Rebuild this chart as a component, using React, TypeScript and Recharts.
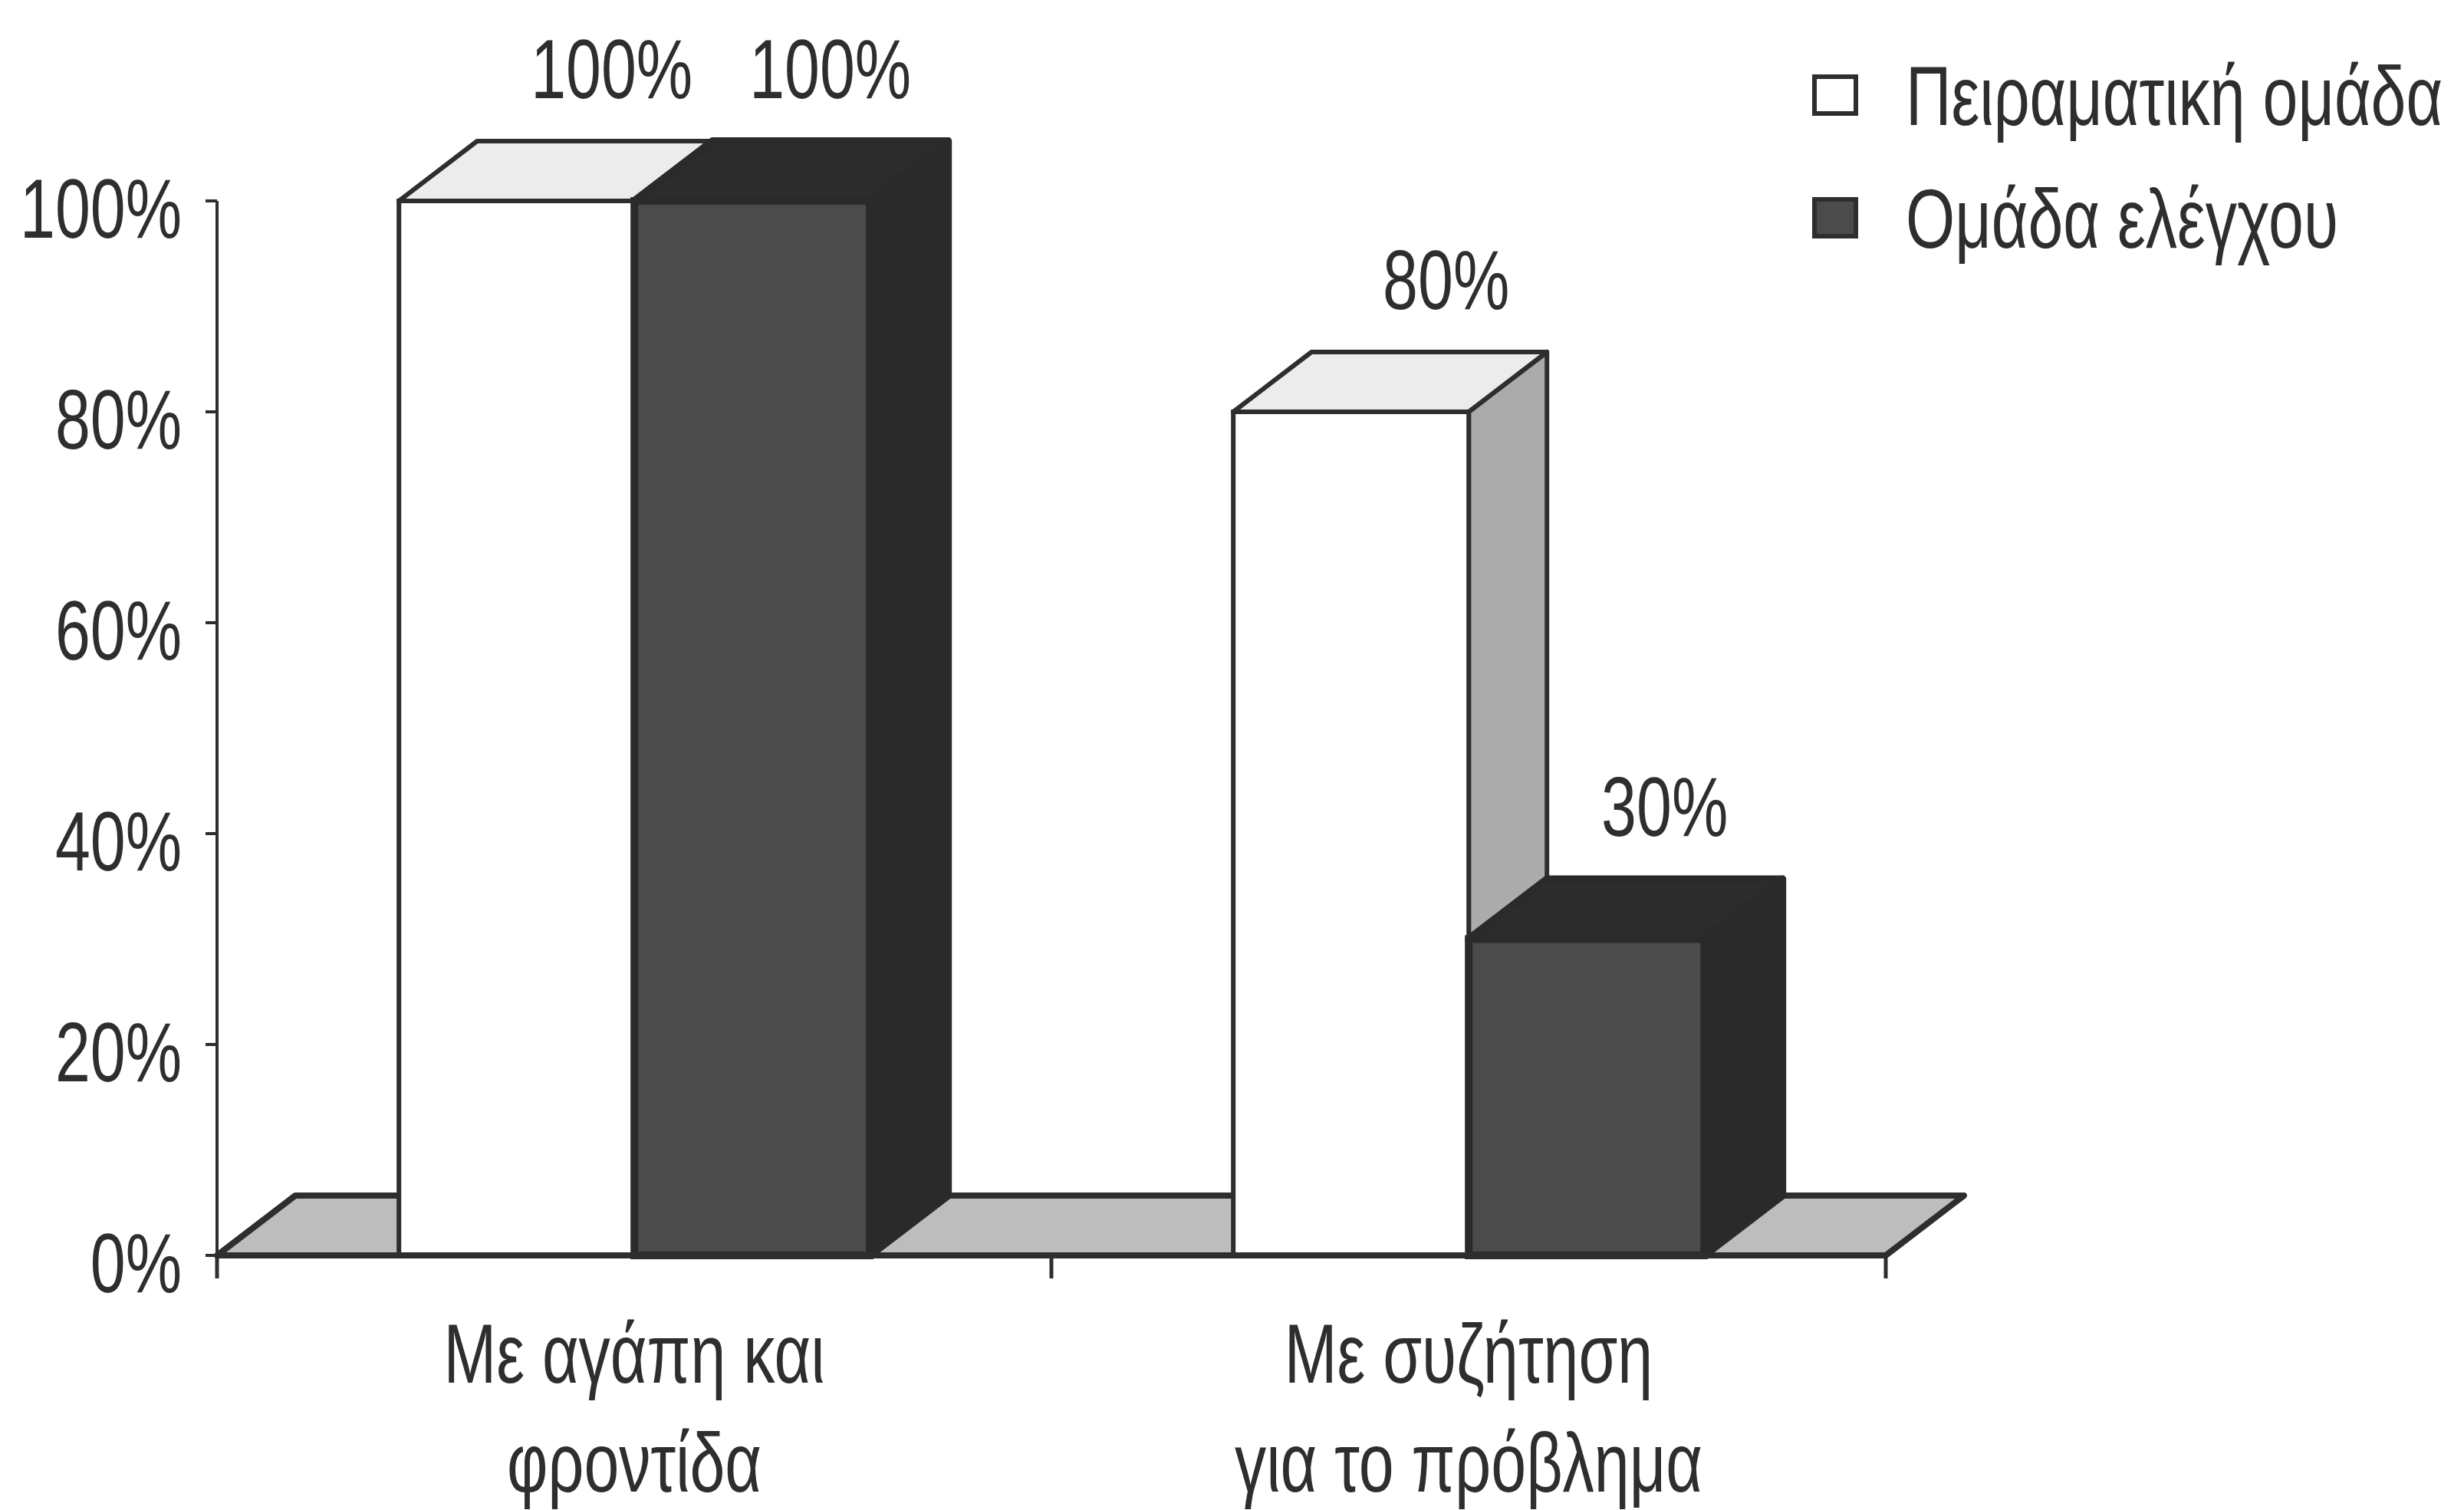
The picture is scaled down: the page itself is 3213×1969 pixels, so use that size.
import React from 'react';
import {
  BarChart,
  Bar,
  XAxis,
  YAxis,
  Legend,
  LabelList,
  ReferenceArea,
} from 'recharts';

// categories and the two groups' percentages
const categories = ['Με αγάπη και\nφροντίδα', 'Με συζήτηση\nγια το πρόβλημα'];
const experimentalGroup = [100, 80];
const controlGroup = [100, 30];
const seriesNames = ['Πειραματική ομάδα', 'Ομάδα ελέγχου'];
const yTicks = [0, 20, 40, 60, 80, 100];

const data = categories.map((name, i) => ({
  name,
  experimental: experimentalGroup[i],
  control: controlGroup[i],
}));

// condensed look: regular sans squeezed horizontally
const FONT = "'Liberation Sans', Arial, sans-serif";
const FONT_SIZE = 110;
const SQUEEZE = 0.75;
const INK = '#2e2e2e';
// 3D extrusion offset of every box
const DX = 102;
const DY = 78;

const poly = (pts: number[][]) => pts.map((p) => p.join(',')).join(' ');

const Narrow = ({ x, y, anchor = 'middle', children }: any) => (
  <text
    transform={`translate(${x},${y}) scale(${SQUEEZE},1)`}
    textAnchor={anchor}
    dominantBaseline="central"
    fontFamily={FONT}
    fontSize={FONT_SIZE}
    fill={INK}
  >
    {children}
  </text>
);

const makeBox = (front: string, top: string, side: string, edge: string, rim: number) =>
  (props: any) => {
    const { x, y, width: w, height: h } = props;
    if (w == null || h == null) return null;
    return (
      <g>
        <polygon
          points={poly([[x + w, y], [x + w + DX, y - DY], [x + w + DX, y + h - DY], [x + w, y + h]])}
          fill={side}
          stroke={edge}
          strokeWidth={rim}
          strokeLinejoin="round"
        />
        <polygon
          points={poly([[x, y], [x + DX, y - DY], [x + w + DX, y - DY], [x + w, y]])}
          fill={top}
          stroke={edge}
          strokeWidth={rim}
          strokeLinejoin="round"
        />
        <rect x={x} y={y} width={w} height={h} fill={front} stroke={edge} strokeWidth={rim} />
      </g>
    );
  };

const WhiteBox = makeBox('#ffffff', '#ececec', '#ababab', INK, 6);
const DarkBox = makeBox('#4b4b4b', '#2c2c2c', '#2a2a2a', '#2a2a2a', 10);

// gray floor under the columns
const Floor = (props: any) => {
  const { x, y, width: w } = props;
  return (
    <polygon
      points={poly([[x, y], [x + DX, y - DY], [x + w + DX, y - DY], [x + w, y]])}
      fill="#bdbdbd"
      stroke={INK}
      strokeWidth={8}
      strokeLinejoin="round"
    />
  );
};

const makeValueLabel = (shift: number) => (props: any) => {
  const { x, y, width, value } = props;
  return <Narrow x={x + width / 2 + DX + shift} y={y - 172}>{`${value}%`}</Narrow>;
};
const WhiteLabel = makeValueLabel(22);
const DarkLabel = makeValueLabel(0);

const PercentTick = (props: any) => {
  const { x, y, payload } = props;
  return <Narrow x={x} y={y + 10} anchor="end">{`${payload.value}%`}</Narrow>;
};

const CategoryTick = (props: any) => {
  const { x, y, payload, index, visibleTicksCount } = props;
  const half = payload.offset || 0;
  const lines = String(payload.value).split('\n');
  return (
    <g>
      <line x1={x - half} y1={y - 8} x2={x - half} y2={y + 22} stroke={INK} strokeWidth={5} />
      {index === visibleTicksCount - 1 && (
        <line x1={x + half} y1={y - 8} x2={x + half} y2={y + 22} stroke={INK} strokeWidth={5} />
      )}
      {lines.map((line, i) => (
        <Narrow key={i} x={x} y={y + 120 + i * 142}>
          {line}
        </Narrow>
      ))}
    </g>
  );
};

const LegendBox = () => (
  <div style={{ fontFamily: FONT, fontSize: FONT_SIZE, color: INK, whiteSpace: 'nowrap' }}>
    {seriesNames.map((name, i) => (
      <div key={name} style={{ display: 'flex', alignItems: 'center', height: 160 }}>
        <span
          style={{
            flex: '0 0 auto',
            display: 'inline-block',
            boxSizing: 'border-box',
            width: 60,
            height: 54,
            marginRight: 62,
            background: i === 0 ? '#ffffff' : '#4b4b4b',
            border: `6px solid ${INK}`,
          }}
        />
        <span
          style={{
            flex: '0 0 auto',
            display: 'inline-block',
            transform: `scaleX(${SQUEEZE})`,
            transformOrigin: 'left center',
          }}
        >
          {name}
        </span>
      </div>
    ))}
  </div>
);

export default function App() {
  return (
    <div style={{ position: 'absolute', left: 0, top: 0, background: '#fff' }}>
      <BarChart
        width={3213}
        height={1969}
        data={data}
        margin={{ top: 262, right: 754, bottom: 0, left: 0 }}
        barCategoryGap="21.8%"
        barGap={0}
      >
        <ReferenceArea y1={0} y2={0} shape={Floor} ifOverflow="visible" />
        <YAxis
          width={283}
          domain={[0, 100]}
          ticks={yTicks}
          axisLine={{ stroke: INK, strokeWidth: 4 }}
          tickLine={{ stroke: INK, strokeWidth: 4 }}
          tickSize={15}
          tickMargin={31}
          tick={<PercentTick />}
        />
        <XAxis
          dataKey="name"
          height={332}
          axisLine={{ stroke: INK, strokeWidth: 8 }}
          tickLine={false}
          tick={<CategoryTick />}
          interval={0}
        />
        <Legend
          layout="vertical"
          align="right"
          verticalAlign="top"
          content={<LegendBox />}
          wrapperStyle={{ position: 'absolute', left: 2363, top: 44, width: 0, height: 0 }}
        />
        <Bar
          dataKey="experimental"
          name={seriesNames[0]}
          shape={WhiteBox}
          isAnimationActive={false}
        >
          <LabelList dataKey="experimental" content={<WhiteLabel />} />
        </Bar>
        <Bar
          dataKey="control"
          name={seriesNames[1]}
          shape={DarkBox}
          isAnimationActive={false}
        >
          <LabelList dataKey="control" content={<DarkLabel />} />
        </Bar>
      </BarChart>
    </div>
  );
}
